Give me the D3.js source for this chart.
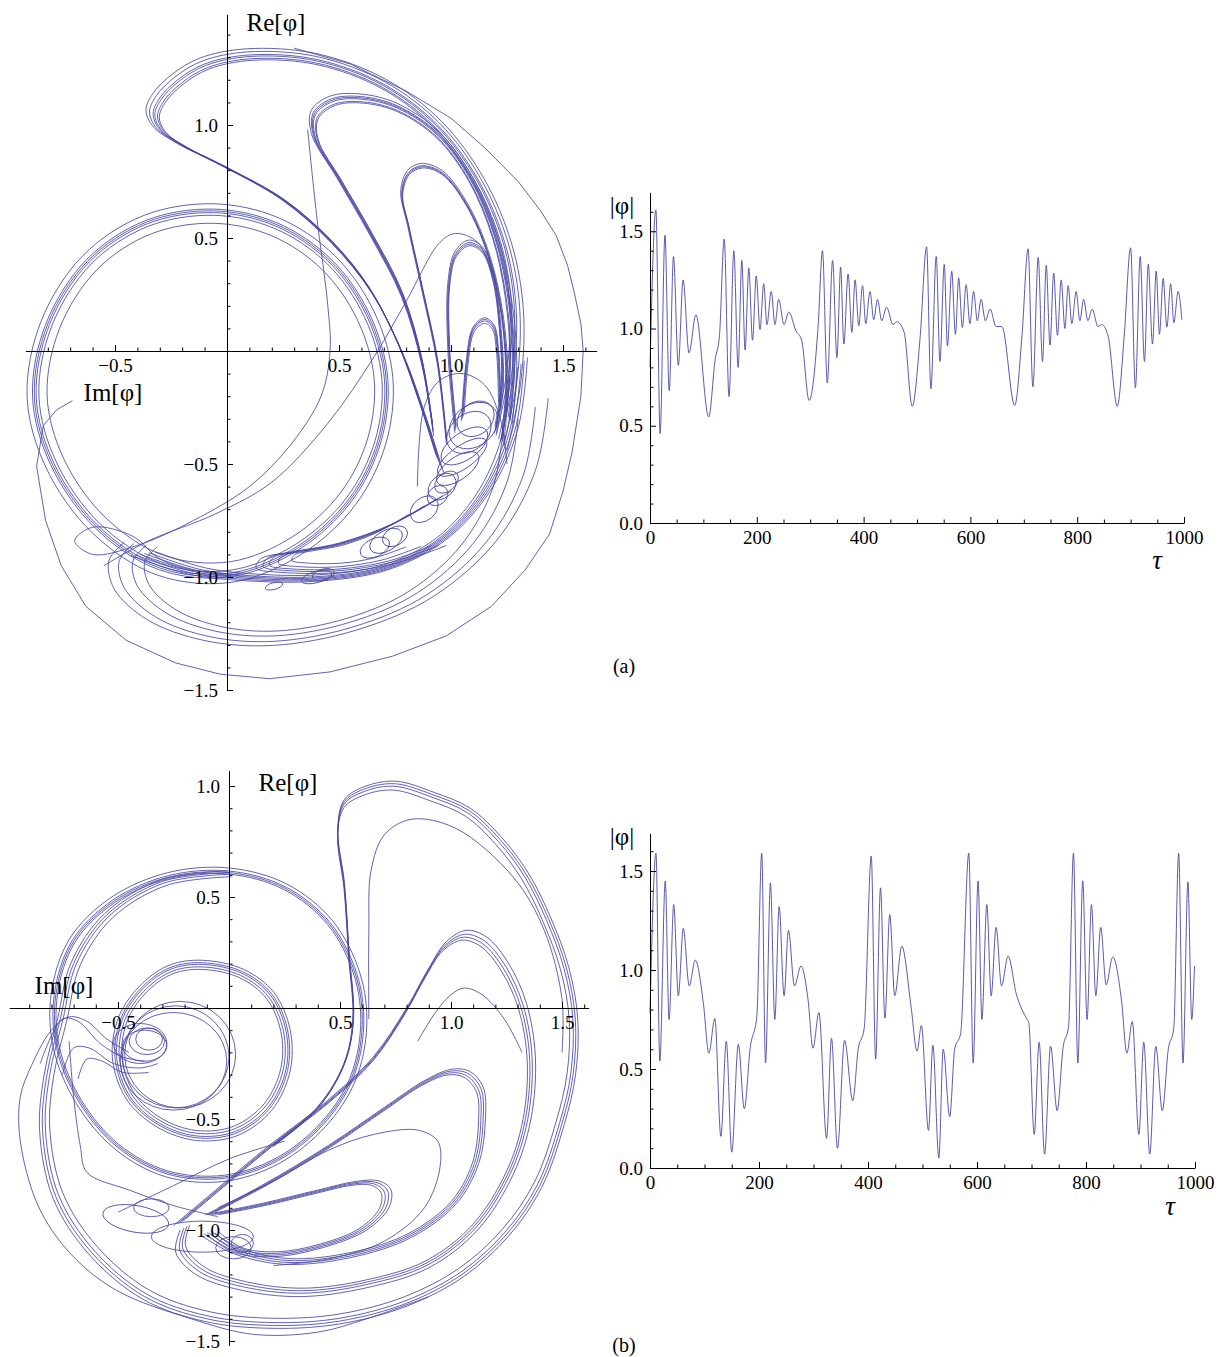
<!DOCTYPE html>
<html>
<head>
<meta charset="utf-8">
<script src="https://cdn.jsdelivr.net/npm/d3@7"></script>
<style>
  body { margin: 0; background: #fff; }
  text { font-family: "Liberation Serif", "Times New Roman", serif; }
</style>
</head>
<body>
<script>
// ---------- time series |phi|(tau) : extrema ----------
const tauA = [0,11,19,28,36,44,53,62,73,86,110,122,130,139,148,157,165,172,178,185,192,199,206,213,219,227,234,241,251,260,273,284,298,315,323,332,342,350,357,363,371,378,384,391,398,404,412,419,426,434,443,455,462,476,491,506,518,526,536,543,551,557,565,572,578,585,592,599,606,613,620,628,637,648,659,683,697,708,717,727,735,742,749,756,763,770,777,783,790,798,805,812,820,828,839,846,858,875,888,900,909,918,926,933,941,948,954,961,968,975,981,989,996];
const absA = [0.80,1.61,0.46,1.48,0.68,1.37,0.81,1.25,0.875,1.07,0.545,0.84,0.96,1.46,0.65,1.40,0.80,1.35,0.89,1.31,0.94,1.27,0.995,1.23,1.02,1.19,1.02,1.15,1.02,1.085,0.99,0.94,0.63,1.02,1.40,0.72,1.35,0.85,1.315,0.92,1.28,0.98,1.25,1.015,1.22,1.025,1.19,1.045,1.15,1.04,1.11,1.02,1.035,0.98,0.60,0.96,1.42,0.69,1.37,0.83,1.33,0.91,1.295,0.97,1.26,1.005,1.225,1.025,1.19,1.04,1.15,1.04,1.10,1.01,1.01,0.605,0.98,1.41,0.70,1.365,0.83,1.325,0.915,1.285,0.965,1.25,1.0,1.22,1.025,1.19,1.04,1.15,1.04,1.10,1.01,1.02,0.96,0.60,0.96,1.415,0.695,1.37,0.83,1.33,0.92,1.295,0.97,1.257,1.007,1.23,1.03,1.19,1.045];

const tauB = [0,11,18,28,35,43.5,52,61,72,83,98,108,119,130,140,150,162,173,184,196,205,212,221,229,237,246,254,265,277,290,299,310,324,333,344,357,372,382,393,406,414,423,431,440,449,462,479,490,498,511,519,530,538,550,559,570,585,593,602,609,618,626,635,645,657,672,692,695,705,714,724,735,747,758,768,777,785,794,802,810,818,827,837,849,865,875,885,897,906,917,928,940,951,961,970,978,987,994,999];
const absB = [0.78,1.59,0.54,1.45,0.75,1.33,0.87,1.21,0.92,1.05,0.83,0.58,0.755,0.16,0.64,0.08,0.625,0.30,0.61,0.765,1.59,0.53,1.44,0.75,1.32,0.87,1.20,0.92,1.02,0.85,0.605,0.785,0.15,0.655,0.10,0.645,0.34,0.60,0.705,1.575,0.55,1.415,0.757,1.28,0.87,1.12,0.815,0.59,0.72,0.19,0.62,0.05,0.60,0.26,0.60,0.68,1.59,0.53,1.45,0.75,1.33,0.87,1.215,0.92,1.07,0.88,0.75,0.735,0.17,0.635,0.07,0.615,0.29,0.61,0.715,1.59,0.53,1.45,0.75,1.33,0.87,1.215,0.925,1.065,0.85,0.58,0.74,0.17,0.635,0.07,0.615,0.29,0.60,0.705,1.59,0.53,1.445,0.75,1.02];

// ---------- tick values ----------
const tauMajor = [0,200,400,600,800,1000];
const tauMinor = [50,100,150,250,300,350,450,500,550,650,700,750,850,900,950];
const absMajor = [0,0.5,1.0,1.5];
const absMinor = [0.1,0.2,0.3,0.4,0.6,0.7,0.8,0.9,1.1,1.2,1.3,1.4,1.6];

const phaseXMajorA = [-0.5,0.5,1.0,1.5];
const phaseXMinorA = [-0.8,-0.7,-0.6,-0.4,-0.3,-0.2,-0.1,0.1,0.2,0.3,0.4,0.6,0.7,0.8,0.9,1.1,1.2,1.3,1.4,1.6];
const phaseYMajorA = [-1.5,-1.0,-0.5,0.5,1.0];
const phaseYMinorA = [-1.4,-1.3,-1.2,-1.1,-0.9,-0.8,-0.7,-0.6,-0.4,-0.3,-0.2,-0.1,0.1,0.2,0.3,0.4,0.6,0.7,0.8,0.9,1.1,1.2,1.3,1.4];
const phaseXMinorB = [-0.9,-0.8,-0.7,-0.6,-0.4,-0.3,-0.2,-0.1,0.1,0.2,0.3,0.4,0.6,0.7,0.8,0.9,1.1,1.2,1.3,1.4,1.6];
const phaseYMinorB = [-1.4,-1.3,-1.2,-1.1,-0.9,-0.8,-0.7,-0.6,-0.4,-0.3,-0.2,-0.1,0.1,0.2,0.3,0.4,0.6,0.7,0.8,0.9];

// ---------- phase portrait (a): strands [Im, Re] ----------
const hookA = [[1.22,-0.40],[1.28,-0.10],[1.29,0.20],[1.24,0.48],[1.12,0.76],[0.94,1.00],[0.70,1.18],[0.40,1.29],[0.10,1.31],[-0.10,1.27],[-0.22,1.20],[-0.30,1.12],[-0.33,1.05],[-0.30,0.98],[-0.20,0.91],[-0.08,0.85],[0.00,0.81],[0.25,0.67],[0.47,0.48],[0.64,0.27],[0.77,0.02],[0.87,-0.25],[0.95,-0.50]];
const hookAScales = [1.04,1.02,1.0,0.99,0.975,0.965];
const ringA = [[-0.06,0.62],[0.22,0.56],[0.46,0.40],[0.63,0.16],[0.71,-0.12],[0.68,-0.40],[0.55,-0.66],[0.32,-0.87],[0.02,-0.99],[-0.30,-0.96],[-0.58,-0.78],[-0.78,-0.50],[-0.86,-0.20],[-0.80,0.12],[-0.62,0.40],[-0.36,0.57]];
const ringAScales = [1.04,1.01,1.0,0.99,0.975,0.93];
const loop2A = [[0.92,-0.35],[0.87,-0.05],[0.78,0.25],[0.64,0.52],[0.50,0.76],[0.39,0.95],[0.39,1.05],[0.47,1.11],[0.60,1.12],[0.76,1.08],[0.94,0.96],[1.09,0.76],[1.20,0.50],[1.26,0.22],[1.28,-0.05],[1.26,-0.30]];
const loop2AScales = [1.03,1.01,1.0,0.99,0.97,0.96];
const loop3A = [[0.98,-0.40],[0.94,-0.05],[0.87,0.28],[0.81,0.55],[0.78,0.70],[0.81,0.79],[0.87,0.82],[0.96,0.79],[1.07,0.65],[1.17,0.42],[1.23,0.15],[1.25,-0.15],[1.23,-0.40]];
const loop3AScales = [1.02,1.0,0.99,0.98];
const loop4A = [[1.02,-0.35],[0.99,0.0],[0.99,0.30],[1.02,0.43],[1.08,0.48],[1.14,0.45],[1.19,0.32],[1.22,0.10],[1.23,-0.15],[1.20,-0.35]];
const loop4AScales = [1.03,1.0,0.98,0.96];
const loop5A = [[1.05,-0.30],[1.07,-0.05],[1.10,0.10],[1.15,0.14],[1.19,0.11],[1.21,0.0],[1.22,-0.25]];
const loop5AScales = [1.04,1.0,0.96,0.9];
const bottomArcA = [[1.30,-0.30],[1.25,-0.58],[1.10,-0.85],[0.85,-1.07],[0.55,-1.20],[0.22,-1.26],[-0.05,-1.24],[-0.27,-1.16],[-0.40,-1.04],[-0.42,-0.93],[-0.36,-0.86]];
const bottomArcAScales = [1.14,1.08,1.0,0.93];
const crescentA = [[1.32,-0.05],[1.28,-0.35],[1.16,-0.62],[0.97,-0.83],[0.72,-0.96],[0.42,-1.01],[0.12,-1.01],[-0.15,-0.98],[-0.40,-0.90]];
const crescentAScales = [1.03,1.01,0.99,0.97,0.95,0.92];
const narrowA = [[1.00,-0.62],[0.75,-0.76],[0.50,-0.85],[0.28,-0.89],[0.15,-0.92],[0.13,-0.96],[0.25,-0.98],[0.50,-0.98],[0.75,-0.94],[0.98,-0.86]];
const narrowAScales = [1.0,0.92,0.85,0.75,0.6];
const outerA = [[0.30,1.34],[0.55,1.27],[0.80,1.15],[1.00,1.03],[1.15,0.90],[1.30,0.75],[1.40,0.62],[1.47,0.51],[1.52,0.38],[1.55,0.26],[1.58,0.12],[1.59,0.00],[1.58,-0.20],[1.54,-0.45],[1.50,-0.62],[1.44,-0.81],[1.33,-0.97],[1.18,-1.13],[0.98,-1.26],[0.74,-1.35],[0.46,-1.42],[0.19,-1.45],[-0.03,-1.43],[-0.23,-1.38],[-0.45,-1.28],[-0.63,-1.13],[-0.74,-0.95],[-0.81,-0.75],[-0.85,-0.51],[-0.82,-0.33],[-0.76,-0.26],[-0.69,-0.22]];
const thin1A = [[0.36,0.98],[0.40,0.60],[0.45,0.20],[0.46,0.00],[0.42,-0.20],[0.28,-0.42],[0.10,-0.60],[-0.15,-0.75],[-0.40,-0.86],[-0.60,-0.90],[-0.68,-0.84],[-0.60,-0.78],[-0.42,-0.82],[-0.30,-0.92],[-0.15,-0.97],[0.05,-0.99]];
const thin2A = [[1.20,0.30],[1.12,0.48],[1.02,0.52],[0.95,0.48],[0.80,0.22],[0.66,-0.02],[0.45,-0.32],[0.20,-0.58],[-0.05,-0.72],[-0.35,-0.84],[-0.55,-0.95]];
const thin3A = [[0.85,-0.60],[0.88,-0.25],[0.95,-0.13],[1.05,-0.10],[1.15,-0.15],[1.22,-0.30],[1.25,-0.50]];
// small loops: [Im, Re, rIm, rRe, angle]
const loopsA = [[1.10,-0.33,0.12,0.09,40],[1.08,-0.36,0.11,0.08,40],[1.11,-0.30,0.09,0.07,40],[1.06,-0.42,0.12,0.06,35],[1.05,-0.47,0.13,0.05,35],[1.03,-0.52,0.11,0.05,35],[0.96,-0.60,0.07,0.05,40],[0.98,-0.58,0.06,0.04,40],[0.94,-0.64,0.05,0.04,40],[0.88,-0.70,0.07,0.05,40],[0.71,-0.84,0.08,0.045,30],[0.75,-0.82,0.06,0.04,30],[0.66,-0.87,0.07,0.04,25],[0.40,-1.00,0.07,0.025,15],[0.43,-0.99,0.05,0.025,15],[0.21,-1.04,0.04,0.015,15]];

// ---------- phase portrait (b) ----------
const outerB = [[0.20,-0.62],[0.40,-0.45],[0.52,-0.25],[0.56,-0.05],[0.54,0.25],[0.52,0.55],[0.49,0.80],[0.52,0.93],[0.62,0.99],[0.75,1.01],[0.92,0.96],[1.08,0.89],[1.22,0.76],[1.34,0.60],[1.44,0.40],[1.52,0.18],[1.56,-0.05],[1.55,-0.30],[1.50,-0.52],[1.40,-0.80],[1.25,-1.02],[1.05,-1.20],[0.80,-1.33],[0.50,-1.41],[0.20,-1.43],[-0.10,-1.40],[-0.38,-1.30],[-0.62,-1.10],[-0.78,-0.85],[-0.84,-0.55],[-0.82,-0.30],[-0.76,-0.05],[-0.70,0.20],[-0.55,0.42],[-0.30,0.57],[0.00,0.61]];
const outerBScales = [1.01,1.0,0.99,0.975];
const ringB = [[0.0,0.61],[0.25,0.54],[0.45,0.38],[0.57,0.15],[0.60,-0.08],[0.55,-0.32],[0.42,-0.52],[0.22,-0.68],[-0.02,-0.76],[-0.28,-0.74],[-0.50,-0.62],[-0.67,-0.42],[-0.77,-0.18],[-0.78,0.06],[-0.70,0.30],[-0.52,0.48],[-0.27,0.59]];
const ringBScales = [1.03,1.01,1.0,0.99];
const smallRingB = [[-0.12,0.20],[0.06,0.16],[0.19,0.06],[0.26,-0.10],[0.26,-0.28],[0.18,-0.45],[0.03,-0.56],[-0.15,-0.58],[-0.32,-0.52],[-0.45,-0.40],[-0.51,-0.22],[-0.48,-0.04],[-0.38,0.10],[-0.26,0.18]];
const smallRingBScales = [1.04,1.01,0.99,0.96,0.93];
const tongue1B = [[-0.25,-0.98],[-0.06,-0.82],[0.18,-0.62],[0.44,-0.42],[0.65,-0.22],[0.80,0.00],[0.90,0.18],[0.98,0.30],[1.07,0.35],[1.16,0.32],[1.26,0.20],[1.34,0.02],[1.38,-0.22],[1.36,-0.50],[1.28,-0.75],[1.12,-1.00],[0.90,-1.17],[0.62,-1.26],[0.32,-1.30],[0.05,-1.27],[-0.15,-1.20],[-0.24,-1.10],[-0.22,-1.00]];
const tongue1BScales = [1.0,0.98,0.965,0.95];
const tongue2B = [[-0.10,-0.93],[0.15,-0.80],[0.45,-0.62],[0.70,-0.45],[0.88,-0.33],[1.00,-0.28],[1.08,-0.29],[1.14,-0.36],[1.15,-0.50],[1.12,-0.70],[1.02,-0.88],[0.82,-1.03],[0.55,-1.12],[0.25,-1.15],[0.02,-1.10],[-0.12,-1.02]];
const tongue2BScales = [1.01,0.99,0.97,0.95];
const tongue3B = [[-0.10,-0.93],[0.15,-0.88],[0.40,-0.82],[0.58,-0.78],[0.68,-0.78],[0.73,-0.82],[0.72,-0.90],[0.62,-1.00],[0.42,-1.08],[0.20,-1.12],[0.02,-1.10],[-0.10,-1.02]];
const tongue3BScales = [1.0,0.96,0.92,0.88];
const thinTongueB = [[-0.05,-0.90],[0.20,-0.78],[0.45,-0.64],[0.65,-0.57],[0.85,-0.55],[0.94,-0.60],[0.95,-0.72],[0.88,-0.90],[0.70,-1.05],[0.45,-1.13],[0.20,-1.16]];
const topThinB = [[0.63,-0.05],[0.63,0.35],[0.64,0.62],[0.70,0.78],[0.82,0.85],[1.02,0.81],[1.28,0.59],[1.42,0.35],[1.50,0.04],[1.50,-0.20]];
const rightThinB = [[0.85,-0.15],[0.93,-0.02],[1.00,0.06],[1.06,0.09],[1.14,0.06],[1.24,-0.05],[1.32,-0.20]];
const outerThinB = [[0.90,-1.30],[0.62,-1.40],[0.40,-1.46],[0.11,-1.47],[-0.17,-1.40],[-0.51,-1.27],[-0.72,-1.10],[-0.86,-0.89],[-0.94,-0.60],[-0.94,-0.40],[-0.89,-0.26],[-0.80,-0.10],[-0.72,-0.04],[-0.64,-0.06],[-0.55,-0.14],[-0.45,-0.20]];
const curlIn1B = [[-0.85,-0.25],[-0.75,-0.05],[-0.68,-0.06],[-0.58,-0.16],[-0.48,-0.22],[-0.38,-0.24]];
const curlIn2B = [[-0.75,-0.30],[-0.70,-0.18],[-0.63,-0.18],[-0.52,-0.25],[-0.40,-0.27],[-0.32,-0.25]];
const curlIn3B = [[-0.68,-0.32],[-0.64,-0.23],[-0.57,-0.24],[-0.48,-0.29],[-0.36,-0.29]];
const thinLeftB = [[-0.72,-0.15],[-0.70,-0.40],[-0.67,-0.62],[-0.64,-0.74],[-0.45,-0.82],[-0.25,-0.89],[-0.05,-0.94]];
const thinCrossB = [[-0.50,-0.92],[-0.25,-0.80],[0.0,-0.68],[0.25,-0.60]];
const loopsB = [[-0.22,-0.21,0.25,0.24,0],[-0.24,-0.22,0.24,0.23,0],[-0.25,-0.24,0.24,0.22,0],[-0.40,-0.16,0.12,0.09,0],[-0.38,-0.17,0.10,0.07,0],[-0.37,-0.15,0.08,0.06,0],[-0.36,-0.14,0.06,0.05,0],[-0.12,-1.03,0.23,0.07,0],[-0.42,-0.95,0.15,0.06,-10],[-0.35,-0.90,0.08,0.04,0],[0.02,-1.08,0.08,0.05,0],[0.06,-1.06,0.05,0.04,0]];

// ---------- drawing ----------
const ink = "#4747a3";
const serif = "Liberation Serif, Times New Roman, serif";
const svg = d3.select("body").append("svg").attr("width", 1227).attr("height", 1357);

// nested copies of a strand, shrunk or grown about its centre
function nest(pts, scales) {
  const cx = d3.mean(pts, p => p[0]), cy = d3.mean(pts, p => p[1]);
  return scales.map(s => pts.map(p => [cx + s * (p[0] - cx), cy + s * (p[1] - cy)]));
}

function styleAxis(g) {
  g.selectAll("g").attr("font-size", null).attr("font-family", null);
  g.selectAll("text").attr("font-size", 19).attr("font-family", serif).attr("fill", "#000");
  g.selectAll("line, path").attr("stroke", "#000").attr("stroke-width", 1);
}

function drawAxes(g, x, y, o) {
  const gx = g.append("g").attr("transform", `translate(0,${o.axisY})`);
  gx.call(d3.axisBottom(x).tickValues(o.xMinor).tickSize(-3.5).tickSizeOuter(0).tickFormat(""));
  gx.append("g").call(d3.axisBottom(x).tickValues(o.xMajor).tickSize(-6).tickSizeOuter(0)
      .tickPadding(o.padX).tickFormat(o.fmtX))
    .call(a => a.select(".domain").remove());
  styleAxis(gx);
  const gy = g.append("g").attr("transform", `translate(${o.axisX},0)`);
  gy.call(d3.axisLeft(y).tickValues(o.yMinor).tickSize(-3.5).tickSizeOuter(0).tickFormat(""));
  gy.append("g").call(d3.axisLeft(y).tickValues(o.yMajor).tickSize(-6).tickSizeOuter(0)
      .tickPadding(o.padY).tickFormat(o.fmtY))
    .call(a => a.select(".domain").remove());
  styleAxis(gy);
}

function label(txt, x, y, size, italic) {
  svg.append("text").attr("x", x).attr("y", y).attr("text-anchor", "middle")
    .attr("dominant-baseline", "central").attr("font-size", size).attr("font-family", serif)
    .attr("font-style", italic ? "italic" : "normal").text(txt);
}

function phasePanel(p) {
  const g = svg.append("g");
  const x = d3.scaleLinear().domain(p.xDom).range(p.xRange);
  const y = d3.scaleLinear().domain(p.yDom).range(p.yRange);
  const smooth = d3.line().x(d => x(d[0])).y(d => y(d[1])).curve(d3.curveCatmullRom.alpha(0.5));
  const closed = d3.line().x(d => x(d[0])).y(d => y(d[1])).curve(d3.curveCatmullRomClosed.alpha(0.5));
  const coarse = d3.line().x(d => x(d[0])).y(d => y(d[1]));
  const lines = g.append("g").attr("fill", "none").attr("stroke", ink)
    .attr("stroke-width", 0.85).attr("stroke-linejoin", "round");
  p.open.forEach(s => lines.append("path").attr("d", smooth(s)));
  p.rings.forEach(s => lines.append("path").attr("d", closed(s)));
  p.coarse.forEach(s => lines.append("path").attr("d", coarse(s)));
  lines.selectAll("ellipse.loop").data(p.loops).enter().append("ellipse")
    .attr("class", "loop")
    .attr("cx", d => x(d[0])).attr("cy", d => y(d[1]))
    .attr("rx", d => x(d[0] + d[2]) - x(d[0])).attr("ry", d => y(d[1] - d[3]) - y(d[1]))
    .attr("transform", d => `rotate(${-d[4]},${x(d[0])},${y(d[1])})`);
  drawAxes(g, x, y, {
    axisY: y(0), axisX: x(0), xMajor: p.xMajor, xMinor: p.xMinor, yMajor: p.yMajor, yMinor: p.yMinor,
    fmtX: d3.format(".1f"), fmtY: d3.format(".1f"), padX: 8, padY: 9
  });
}

function seriesPanel(p) {
  const g = svg.append("g");
  const x = d3.scaleLinear().domain([0, 1000]).range(p.xRange);
  const y = d3.scaleLinear().domain([0, p.yTop]).range(p.yRange);
  const line = d3.line().x((d, i) => x(p.tau[i])).y(d => y(d)).curve(d3.curveMonotoneX);
  g.append("path").attr("d", line(p.abs)).attr("fill", "none").attr("stroke", ink).attr("stroke-width", 0.9);
  drawAxes(g, x, y, {
    axisY: y(0), axisX: x(0), xMajor: tauMajor, xMinor: tauMinor, yMajor: absMajor, yMinor: absMinor,
    fmtX: d3.format("d"), fmtY: d3.format(".1f"), padX: 8, padY: 7
  });
}

phasePanel({
  xDom: [-0.9, 1.65], xRange: [227 - 0.9 * 224, 227 + 1.65 * 224],
  yDom: [1.49, -1.5], yRange: [351 - 1.49 * 226, 351 + 1.5 * 226],
  xMajor: phaseXMajorA, xMinor: phaseXMinorA, yMajor: phaseYMajorA, yMinor: phaseYMinorA,
  open: [].concat(nest(hookA, hookAScales), nest(loop2A, loop2AScales), nest(loop3A, loop3AScales),
    nest(loop4A, loop4AScales), nest(loop5A, loop5AScales), nest(bottomArcA, bottomArcAScales),
    nest(crescentA, crescentAScales), nest(narrowA, narrowAScales), [thin1A, thin2A, thin3A]),
  rings: nest(ringA, ringAScales),
  coarse: [outerA],
  loops: loopsA
});

phasePanel({
  xDom: [-0.99, 1.62], xRange: [229 - 0.99 * 222, 229 + 1.62 * 222],
  yDom: [1.07, -1.52], yRange: [1008 - 1.07 * 222, 1008 + 1.52 * 222],
  xMajor: phaseXMajorA, xMinor: phaseXMinorB, yMajor: phaseYMajorA, yMinor: phaseYMinorB,
  open: [].concat(nest(outerB, outerBScales), nest(tongue1B, tongue1BScales), nest(tongue2B, tongue2BScales),
    nest(tongue3B, tongue3BScales), [thinTongueB, topThinB, rightThinB, outerThinB, curlIn1B, curlIn2B, curlIn3B, thinLeftB, thinCrossB]),
  rings: [].concat(nest(ringB, ringBScales), nest(smallRingB, smallRingBScales)),
  coarse: [],
  loops: loopsB
});

seriesPanel({ tau: tauA, abs: absA, xRange: [650, 1184], yTop: 1.70, yRange: [523, 523 - 1.70 * 194.5] });
seriesPanel({ tau: tauB, abs: absB, xRange: [650, 1195], yTop: 1.69, yRange: [1168, 1168 - 1.69 * 198] });

label("Re[φ]", 276, 22, 25);
label("Im[φ]", 113, 392, 25);
label("Re[φ]", 288, 782, 25);
label("Im[φ]", 64, 985, 25);
label("|φ|", 622, 205, 25);
label("|φ|", 622, 836, 25);
label("τ", 1157, 560, 27, true);
label("τ", 1170, 1206, 27, true);
label("(a)", 624, 666, 20);
label("(b)", 624, 1345, 20);
</script>
</body>
</html>
